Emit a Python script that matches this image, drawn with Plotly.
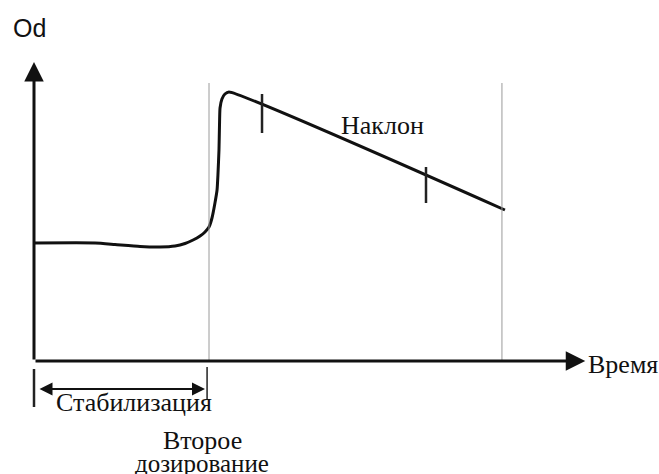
import plotly.graph_objects as go

# Time axis (min) and optical density of the response curve
time = [0.0, 3.49, 4.63, 6.06, 7.2, 8.06, 8.63, 9.09, 9.49, 9.77, 10.0, 10.17,
        10.34, 10.46, 10.51, 10.57, 10.6, 10.63, 10.74, 10.91, 11.14, 26.91]
od = [1.18, 1.18, 1.165, 1.145, 1.14, 1.15, 1.175, 1.21, 1.25, 1.29, 1.34, 1.43,
      1.58, 1.71, 1.86, 2.11, 2.36, 2.53, 2.62, 2.67, 2.69, 1.51]

# Second dosing time and end of the slope window
dose_time = 10.0
end_time = 26.74
guide_top = 2.78

# Slope measurement markers (time, od low, od high)
mark_t = [13.03, 22.4]
mark_lo = [2.28, 1.58]
mark_hi = [2.67, 1.94]

# Stabilization bracket
stab_start = 0.0
stab_end = 9.89

x_tip = 31.5
y_tip = 2.99

fig = go.Figure()

fig.add_trace(go.Scatter(x=time, y=od, mode="lines",
                         line=dict(color="#111111", width=3, shape="spline", smoothing=0.5),
                         hoverinfo="skip", showlegend=False))

shapes = []
# thin guides at the second dose and the end of the window
for t in [dose_time, end_time]:
    shapes.append(dict(type="line", x0=t, x1=t, y0=0, y1=guide_top, xref="x", yref="y",
                       line=dict(color="#9a9a9a", width=1)))
# slope markers
for t, lo, hi in zip(mark_t, mark_lo, mark_hi):
    shapes.append(dict(type="line", x0=t, x1=t, y0=lo, y1=hi, xref="x", yref="y",
                       line=dict(color="#222222", width=2.5)))
# stabilization bracket ends
shapes.append(dict(type="line", x0=stab_start, x1=stab_start, y0=-0.08, y1=-0.46,
                   xref="x", yref="y", line=dict(color="#222222", width=2.5)))
shapes.append(dict(type="line", x0=stab_end, x1=stab_end, y0=-0.06, y1=-0.39,
                   xref="x", yref="y", line=dict(color="#222222", width=1.5)))

annotations = []
# axes with arrowheads
annotations.append(dict(x=x_tip, y=0, ax=0, ay=0, xref="x", yref="y", axref="x", ayref="y",
                        showarrow=True, arrowhead=2, arrowsize=1.3, arrowwidth=3,
                        arrowcolor="#111111", text=""))
annotations.append(dict(x=0, y=y_tip, ax=0, ay=0, xref="x", yref="y", axref="x", ayref="y",
                        showarrow=True, arrowhead=2, arrowsize=1.3, arrowwidth=3,
                        arrowcolor="#111111", text=""))
# stabilization double arrow
annotations.append(dict(x=9.77, y=-0.28, ax=0.23, ay=-0.28, xref="x", yref="y",
                        axref="x", ayref="y", showarrow=True, arrowhead=2, startarrowhead=2,
                        arrowside="end+start", arrowsize=1.3, startarrowsize=1.3,
                        arrowwidth=2, arrowcolor="#111111", text=""))

serif = dict(family="Liberation Serif", size=26, color="#111111")
annotations += [
    dict(x=-0.28, y=3.33, text="Od", showarrow=False, xref="x", yref="y",
         font=dict(family="Liberation Sans", size=25, color="#111111")),
    dict(x=31.55, y=-0.03, text="Время", showarrow=False, xref="x", yref="y",
         xanchor="left", font=serif),
    dict(x=19.91, y=2.36, text="Наклон", showarrow=False, xref="x", yref="y", font=serif),
    dict(x=5.69, y=-0.41, text="Стабилизация", showarrow=False, xref="x", yref="y", font=serif),
    dict(x=9.6, y=-0.79, text="Второе", showarrow=False, xref="x", yref="y", font=serif),
    dict(x=9.6, y=-1.02, text="дозирование", showarrow=False, xref="x", yref="y",
         font=dict(serif, size=25)),
]

fig.update_layout(
    width=659, height=474,
    margin=dict(l=0, r=0, t=0, b=0),
    paper_bgcolor="white", plot_bgcolor="white",
    xaxis=dict(range=[-34 / 17.5, 625 / 17.5], visible=False, fixedrange=True),
    yaxis=dict(range=[-1.13, 3.61], visible=False, fixedrange=True),
    shapes=shapes, annotations=annotations,
)

fig.write_html("out.html")
